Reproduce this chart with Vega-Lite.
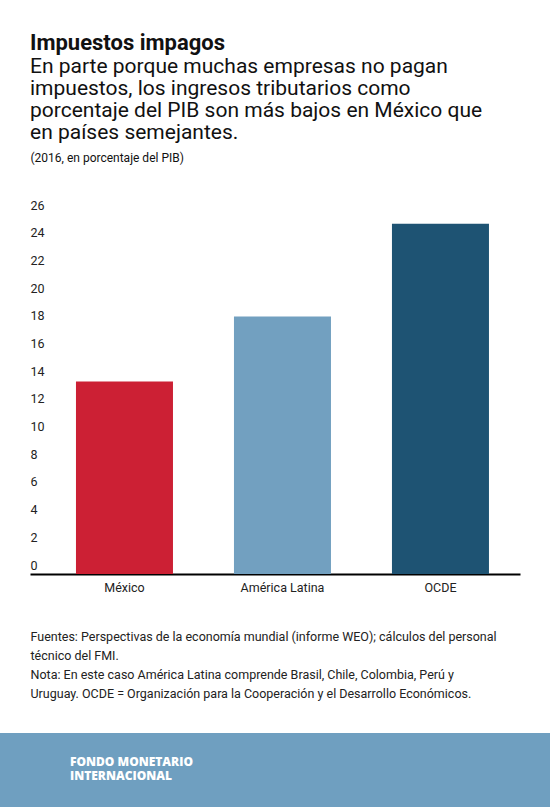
{
  "$schema": "https://vega.github.io/schema/vega-lite/v6.json",
  "background": "white",
  "padding": {"top": 32, "left": 0, "right": 0, "bottom": 0},
  "config": {"font": "Roboto", "view": {"stroke": null}},
  "spacing": 33,
  "vconcat": [
    {
      "width": 520,
      "height": 360,
      "title": {
        "text": "Impuestos impagos",
        "subtitle": [
          "En parte porque muchas empresas no pagan",
          "impuestos, los ingresos tributarios como",
          "porcentaje del PIB son más bajos en México que",
          "en países semejantes."
        ],
        "anchor": "start",
        "frame": "group",
        "dx": 30,
        "font": "Roboto",
        "fontSize": 22,
        "fontWeight": "bold",
        "color": "#111111",
        "subtitleFont": "Roboto",
        "subtitleFontSize": 21,
        "subtitleLineHeight": 22,
        "subtitleColor": "#111111",
        "subtitlePadding": 1,
        "offset": 7
      },
      "data": {
        "values": [
          {"region": "México", "valor": 13.9},
          {"region": "América Latina", "valor": 18.6},
          {"region": "OCDE", "valor": 25.3}
        ]
      },
      "mark": {"type": "bar"},
      "encoding": {
        "x": {
          "field": "region",
          "type": "nominal",
          "sort": null,
          "scale": {"range": [30, 520], "paddingInner": 0.386, "paddingOuter": 0.2437, "align": 0.597},
          "axis": {
            "title": [
              "Fuentes: Perspectivas de la economía mundial (informe WEO); cálculos del personal",
              "técnico del FMI.",
              "Nota: En este caso América Latina comprende Brasil, Chile, Colombia, Perú y",
              "Uruguay. OCDE = Organización para la Cooperación y el Desarrollo Económicos."
            ],
            "titleX": 30,
            "titleY": 66,
            "titleAlign": "left",
            "titleBaseline": "alphabetic",
            "titleFontSize": 12.5,
            "titleFontWeight": "normal",
            "titleColor": "#222222",
            "titleLineHeight": 19,
            "labelAngle": 0,
            "labelFontSize": 12.5,
            "labelColor": "#222222",
            "labelPadding": 7,
            "ticks": false,
            "domain": true,
            "domainColor": "black",
            "domainWidth": 2,
            "grid": false
          }
        },
        "y": {
          "field": "valor",
          "type": "quantitative",
          "scale": {"domain": [0, 26], "nice": false},
          "axis": {
            "title": "(2016, en porcentaje del PIB)",
            "titleAngle": 0,
            "titleX": 30,
            "titleY": -53,
            "titleAlign": "left",
            "titleBaseline": "alphabetic",
            "titleFontSize": 12,
            "titleFontWeight": "normal",
            "titleColor": "#111111",
            "values": [0, 2, 4, 6, 8, 10, 12, 14, 16, 18, 20, 22, 24, 26],
            "domain": false,
            "grid": false,
            "ticks": false,
            "tickSize": 0,
            "labelPadding": -30,
            "labelAlign": "left",
            "labelBaseline": "alphabetic",
            "labelOffset": -5,
            "labelOverlap": false,
            "labelFontSize": 12.5,
            "labelColor": "#222222"
          }
        },
        "color": {
          "field": "region",
          "type": "nominal",
          "scale": {
            "domain": ["México", "América Latina", "OCDE"],
            "range": ["#cc2034", "#72a0c0", "#1e5373"]
          },
          "legend": null
        }
      }
    },
    {
      "width": 550,
      "height": 74,
      "view": {"fill": "#6f9fc0", "stroke": null},
      "title": {
        "text": ["FONDO MONETARIO", "INTERNACIONAL"],
        "anchor": "start",
        "frame": "group",
        "dx": 70,
        "offset": -50,
        "font": "Open Sans",
        "fontSize": 12,
        "fontWeight": 800,
        "lineHeight": 14,
        "color": "white"
      },
      "data": {"values": [{}]},
      "mark": {"type": "point", "opacity": 0},
      "encoding": {}
    }
  ]
}
